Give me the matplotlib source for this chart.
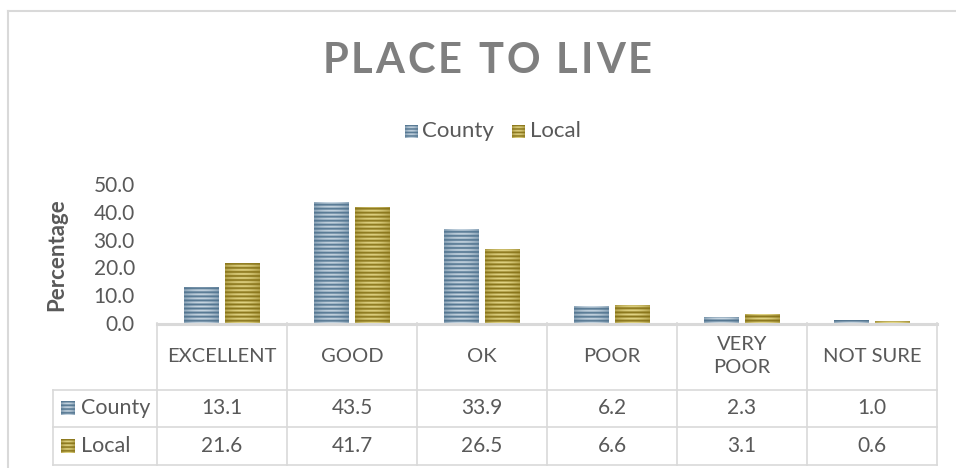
import numpy as np
import matplotlib
matplotlib.use("Agg")
import matplotlib.pyplot as plt

# ---- data -------------------------------------------------------------
categories = ["EXCELLENT", "GOOD", "OK", "POOR", "VERY\nPOOR", "NOT SURE"]
county = [13.1, 43.5, 33.9, 6.2, 2.3, 1.0]
local = [21.6, 41.7, 26.5, 6.6, 3.1, 0.6]
series_names = ["County", "Local"]
yticks = [0, 10, 20, 30, 40, 50]
title = "PLACE TO LIVE"

# ---- style ------------------------------------------------------------
W, H, DPI = 956, 468, 100
FONT = "Lato"
TXT = "#595959"
GRID = "#d9d9d9"
SHADES = {
    "County": ((0.30, 0.44, 0.55), (0.82, 0.87, 0.91)),
    "Local": ((0.52, 0.44, 0.08), (0.91, 0.86, 0.55)),
}

plt.rcParams["font.family"] = [FONT, "DejaVu Sans"]


def fx(x):
    return x / W


def fy(y):
    return 1 - y / H


def stripe_texture(name, nrows, ncols=40, phase_rows=8):
    dark, light = (np.array(c) for c in SHADES[name])
    r = np.arange(nrows)
    p = (r % phase_rows) / phase_rows
    v = 0.5 + 0.5 * np.cos(2 * np.pi * p)           # horizontal stripes
    u = np.linspace(-1, 1, ncols)
    hshade = 1 - 0.45 * u ** 2                        # rounded shading across
    t = v[:, None] * hshade[None, :]
    img = dark[None, None, :] + (light - dark)[None, None, :] * t[..., None]
    return np.clip(img, 0, 1)


fig = plt.figure(figsize=(W / DPI, H / DPI), dpi=DPI)
fig.patch.set_facecolor("white")
renderer = fig.canvas.get_renderer()

# outer chart frame
fig.add_artist(plt.Line2D([fx(8), fx(8)], [fy(11), fy(470)], color=GRID, lw=1.5))
fig.add_artist(plt.Line2D([fx(8), fx(960)], [fy(11), fy(11)], color=GRID, lw=1.5))

# ---- plot area ---------------------------------------------------------
left, right, top, bottom = 157, 937, 184, 323
ax = fig.add_axes([fx(left), fy(bottom), fx(right - left), (bottom - top) / H])
ax.set_xlim(-0.5, len(categories) - 0.5)
ax.set_ylim(0, 50)
for s in ax.spines.values():
    s.set_visible(False)
ax.set_xticks([])
ax.set_yticks(yticks)
ax.set_yticklabels([f"{v:.1f}" for v in yticks], fontsize=15, color=TXT)
ax.tick_params(axis="y", length=0, pad=16)

px_per_unit = (bottom - top) / 50.0
period = 4.0 / px_per_unit          # stripe period in data units (4 px)
bw, off = 0.265, 0.158
x = np.arange(len(categories))
for name, vals, sign in [("County", county, -1), ("Local", local, 1)]:
    bars = ax.bar(x + sign * off, vals, width=bw, color="none", edgecolor="none")
    for b, v in zip(bars, vals):
        nrows = max(2, int(round(v / period * 8)))
        img = stripe_texture(name, nrows)
        x0 = b.get_x()
        im = ax.imshow(img, extent=(x0, x0 + bw, 0, nrows / 8 * period),
                       origin="lower", aspect="auto", interpolation="bilinear",
                       zorder=2)
        im.set_clip_path(b)
ax.set_xlim(-0.5, len(categories) - 0.5)
ax.set_ylim(0, 50)

# y axis title
fig.text(fx(57), fy(255), "Percentage", rotation=90, ha="center", va="center",
         fontsize=16, fontweight="bold", color=TXT)

# title, drawn letter by letter with extra tracking
title_kw = dict(fontsize=30, fontweight="bold", color="#7f7f7f", va="center",
                ha="left")
tracking = 3.0


def text_width(s):
    t = fig.text(0, 0, s, **title_kw)
    w = t.get_window_extent(renderer).width
    t.remove()
    return w


space_w = text_width("A A") - text_width("AA")
widths = [space_w if ch == " " else text_width(ch) for ch in title]
total = sum(widths) + tracking * (len(title) - 1)
cx = 487 - total / 2
for ch, w in zip(title, widths):
    if ch != " ":
        fig.text(fx(cx), fy(61), ch, **title_kw)
    cx += w + tracking


def swatch(name, x0, y0, size=13):
    sax = fig.add_axes([fx(x0), fy(y0 + size), size / W, size / H])
    sax.imshow(stripe_texture(name, 24, 20, 6), aspect="auto", origin="lower",
               interpolation="bilinear")
    sax.axis("off")


# top legend
swatch("County", 405, 125)
fig.text(fx(422), fy(131), "County", ha="left", va="center", fontsize=16, color=TXT)
swatch("Local", 512, 125)
fig.text(fx(530), fy(131), "Local", ha="left", va="center", fontsize=16, color=TXT)

# ---- data table --------------------------------------------------------
cols = [157 + 130 * i for i in range(len(categories) + 1)]
row_y = [323, 390, 427, 465]
lines = []
lines.append(([157, 937], [323.5, 323.5], 2.2))
for yy in row_y[1:]:
    lines.append(([53, 937], [yy, yy], 1.2))
for cxl in cols:
    lines.append(([cxl, cxl], [323, 465], 1.2))
lines.append(([53, 53], [390, 465], 1.2))
for xs, ys, lw in lines:
    fig.add_artist(plt.Line2D([fx(v) for v in xs], [fy(v) for v in ys],
                              color=GRID, lw=lw))

for i, cat in enumerate(categories):
    ccx = (cols[i] + cols[i + 1]) / 2
    fig.text(fx(ccx), fy(356), cat, ha="center", va="center", fontsize=14.5,
             color=TXT, linespacing=1.45)
    for vals, ry in [(county, 408), (local, 446)]:
        fig.text(fx(ccx), fy(ry), f"{vals[i]:.1f}", ha="center", va="center",
                 fontsize=15, color=TXT)

for name, ry in [("County", 408), ("Local", 446)]:
    swatch(name, 61, ry - 7, 14)
    fig.text(fx(81), fy(ry), name, ha="left", va="center", fontsize=15.5, color=TXT)

fig.savefig("out.png", dpi=DPI, facecolor="white")
